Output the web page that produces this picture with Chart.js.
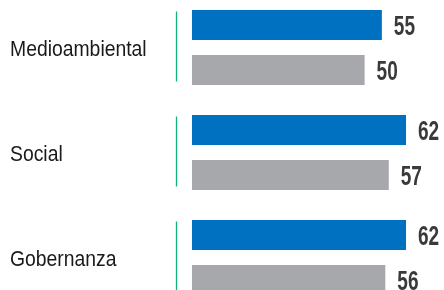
<!DOCTYPE html>
<html lang="es">
<head>
<meta charset="utf-8">
<title>Puntuaciones ESG</title>
<script src="https://cdn.jsdelivr.net/npm/chart.js"></script>
<style>
  html, body { margin: 0; padding: 0; background: #fff; overflow: hidden; }
  body { width: 444px; height: 290px; position: relative; }
  #wrap { position: absolute; left: 0; top: -5px; width: 444px; height: 315px; }
</style>
</head>
<body>
<div id="wrap"><canvas id="chart"></canvas></div>
<script>
const categories = ["Medioambiental", "Social", "Gobernanza"];
const seriesBlue = [55, 62, 62];
const seriesGray = [50, 57, 56];

// labels + green separators + value labels, drawn on top of the bars
const annotate = {
  id: "annotate",
  afterDatasetsDraw(chart) {
    const { ctx, chartArea, scales } = chart;
    const yScale = scales.y;
    const xScale = scales.x;
    ctx.save();

    // thin green line left of each group
    ctx.strokeStyle = "#10b27a";
    ctx.lineWidth = 1.3;
    const lx = Math.round(chartArea.left - 16) + 0.5;
    categories.forEach((c, i) => {
      const cy = yScale.getPixelForValue(i);
      ctx.beginPath();
      ctx.moveTo(lx, cy - 36);
      ctx.lineTo(lx, cy + 34);
      ctx.stroke();
    });

    // category names (a bit condensed like the original)
    ctx.fillStyle = "#1a1a1a";
    ctx.font = "22px 'Liberation Sans', Arial, sans-serif";
    ctx.textAlign = "left";
    ctx.textBaseline = "alphabetic";
    categories.forEach((c, i) => {
      const cy = yScale.getPixelForValue(i);
      ctx.save();
      ctx.translate(10, cy + 8);
      ctx.scale(0.88, 1);
      ctx.fillText(c, 0, 0);
      ctx.restore();
    });

    // values at the end of the bars
    ctx.fillStyle = "#3a3a3a";
    ctx.font = "bold 28px 'Liberation Sans', Arial, sans-serif";
    chart.data.datasets.forEach((ds, di) => {
      const meta = chart.getDatasetMeta(di);
      meta.data.forEach((bar, i) => {
        const x = xScale.getPixelForValue(ds.data[i]) + 12;
        ctx.save();
        ctx.translate(x, bar.y + 10);
        ctx.scale(0.68, 1);
        ctx.fillText(String(ds.data[i]), 0, 0);
        ctx.restore();
      });
    });

    ctx.restore();
  }
};

new Chart(document.getElementById("chart").getContext("2d"), {
  type: "bar",
  data: {
    labels: categories,
    datasets: [
      { label: "A", data: seriesBlue, backgroundColor: "#0070c0" },
      { label: "B", data: seriesGray, backgroundColor: "#a7a8ab" }
    ]
  },
  options: {
    indexAxis: "y",
    responsive: true,
    maintainAspectRatio: false,
    animation: false,
    categoryPercentage: 0.857,
    barPercentage: 0.667,
    layout: { padding: { left: 192, right: 0, top: 0, bottom: 0 } },
    plugins: {
      legend: { display: false },
      tooltip: { enabled: false }
    },
    scales: {
      x: { display: false, min: 0, max: 73 },
      y: { display: false }
    }
  },
  plugins: [annotate]
});
</script>
</body>
</html>
